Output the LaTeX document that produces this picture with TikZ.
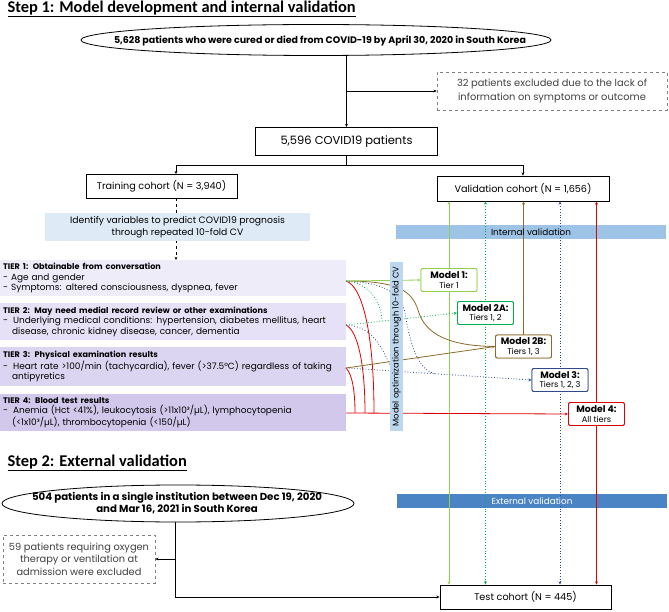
\documentclass[tikz,border=0pt]{standalone}
\usepackage{fontspec}
\setmainfont{Poppins}
\newfontfamily\titlefont{Carlito}
\usetikzlibrary{arrows.meta,shapes.geometric,calc}
\definecolor{tA}{HTML}{EFECF9}
\definecolor{tB}{HTML}{E6E1F6}
\definecolor{tC}{HTML}{DCD5F1}
\definecolor{tD}{HTML}{D1C8EC}
\definecolor{idblue}{HTML}{DEEBF7}
\definecolor{intblue}{HTML}{9DC3E6}
\definecolor{extblue}{HTML}{4A84C4}
\definecolor{cvblue}{HTML}{BDD7EE}
\definecolor{lgreen}{HTML}{92D050}
\definecolor{dgreen}{HTML}{00B050}
\definecolor{brownc}{HTML}{8C6A2A}
\definecolor{navyc}{HTML}{2F4A8C}
\definecolor{redc}{HTML}{E00000}
\definecolor{greyc}{HTML}{808080}
\newlength\fitlen
\newcommand\fitsize[4]{\settowidth\fitlen{\fontsize{10}{12}\selectfont#3#4}\pgfmathsetmacro#1{10*#2/\fitlen}}
\newcommand\hd[1]{{\fontsize{\fsHead}{10.5}\selectfont\bfseries #1}}
\newcommand\mbf[1]{{\fontsize{\fsMB}{10}\selectfont\bfseries #1}}
\begin{document}
\fitsize{\fsTitle}{348}{\titlefont\bfseries}{Step 1: Model development and internal validation}%
\fitsize{\fsOvalA}{412}{\bfseries}{5,628 patients who were cured or died from COVID-19 by April 30, 2020 in South Korea}%
\fitsize{\fsOvalB}{290}{\bfseries}{504 patients in a single institution between Dec 19, 2020}%
\fitsize{\fsBig}{132}{}{5,596 COVID19 patients}%
\fitsize{\fsBox}{137}{}{Validation cohort (N = 1,656)}%
\fitsize{\fsIdent}{215}{}{Identify variables to predict COVID19 prognosis}%
\fitsize{\fsHead}{252}{\bfseries}{TIER 2: May need medial record review or other examinations}%
\fitsize{\fsBody}{318}{}{-\hspace{5pt}Underlying medical conditions: hypertension, diabetes mellitus, heart}%
\fitsize{\fsDashA}{190}{}{32 patients excluded due to the lack of}%
\fitsize{\fsDashB}{140}{}{59 patients requiring oxygen}%
\fitsize{\fsBand}{80}{}{Internal validation}%
\fitsize{\fsMB}{46}{\bfseries}{Model 2A:}%
\fitsize{\fsMN}{41}{}{Tiers 1, 2, 3}%
\fitsize{\fsCV}{160}{}{Model optimization through 10-fold CV}%
\begin{tikzpicture}[x=1pt,y=-1pt,
  >={Stealth[length=3.2pt,width=2.8pt]},
  box/.style={draw,line width=0.8pt,fill=white,inner sep=2pt,font=\fontsize{\fsBox}{12}\selectfont},
  dbox/.style={draw=greyc,dashed,line width=0.6pt,fill=white,align=center,text=black!75,inner sep=2pt},
  oval/.style={draw,ellipse,line width=0.8pt,fill=white,inner sep=0pt},
  ovaltext/.style={align=center,inner sep=0pt},
  tier/.style={anchor=north west,fill=#1,minimum width=346pt,text width=340pt,inner xsep=3pt,inner ysep=3pt,align=left,font=\fontsize{\fsBody}{10.5}\selectfont},
  model/.style={draw=#1,line width=0.9pt,fill=white,rounded corners=2pt,align=center,minimum width=56pt,minimum height=23pt,inner sep=1pt,font=\fontsize{\fsMN}{9.5}\selectfont},
  band/.style={fill=#1,inner sep=0pt},
  ttl/.style={anchor=base west,font=\titlefont\fontsize{\fsTitle}{20}\selectfont\bfseries},
  conn/.style={line width=0.7pt},
  cl/.style={line width=0.8pt}
]
\useasboundingbox (0,0) rectangle (669,612);

% titles
\node[ttl] (t1) at (4,12.5) {\underline{Step 1: Model development and internal validation}};
\node[ttl] (t2) at (4,466) {\underline{Step 2: External validation}};

% step 1 top
\node[oval,minimum width=470pt,minimum height=31pt] (e1) at (316,40) {};
\node[ovaltext,font=\fontsize{\fsOvalA}{12}\selectfont\bfseries] (e1t) at (320,41) {5,628 patients who were cured or died from COVID-19 by April 30, 2020 in South Korea};
\node[dbox,minimum width=230pt,minimum height=38pt,font=\fontsize{\fsDashA}{14}\selectfont] (ex1) at (552,91) {32 patients excluded due to the lack of\\information on symptoms or outcome};
\node[box,minimum width=182pt,minimum height=28pt,font=\fontsize{\fsBig}{13}\selectfont] (all) at (346.5,141.5) {5,596 COVID19 patients};
\coordinate (br1) at (346.5,91);
\draw[conn,->] (e1.south -| all.north) -- (all.north);
\draw[conn,->] (br1) -- (ex1.west);

\node[box,minimum width=151pt,minimum height=24pt] (train) at (161.5,186.5) {Training cohort (N = 3,940)};
\node[box,minimum width=172pt,minimum height=25pt] (valid) at (523,188.5) {Validation cohort (N = 1,656)};
\coordinate (spl) at (176,165);
\coordinate (spr) at (523,165);
\draw[conn] (all.south) -- (all.south |- spl);
\draw[conn,->] (spl) -- (spr) -- (valid.north);
\draw[conn,->] (spl) -- (train.north -| spl);

% identify box and tiers
\coordinate (dtop) at (176,198.5);
\coordinate (dbot) at (176,260);
\draw[conn,dashed,->] (dtop) -- (dbot);
\node[band=idblue,minimum width=265pt,minimum height=28pt,align=center,font=\fontsize{\fsIdent}{11.5}\selectfont] (ident) at (177.5,227) {Identify variables to predict COVID19 prognosis\\through repeated 10-fold CV};

\node[tier=tA,minimum height=36pt] (T1) at (0,260) {\hd{TIER 1: Obtainable from conversation}\\- Age and gender\\- Symptoms: altered consciousness, dyspnea, fever};
\node[tier=tB,minimum height=37pt] (T2) at (0,303) {\hd{TIER 2: May need medial record review or other examinations}\\-\hspace{5pt}Underlying medical conditions: hypertension, diabetes mellitus, heart\\\hspace*{9pt}disease, chronic kidney disease, cancer, dementia};
\node[tier=tC,minimum height=39pt] (T3) at (0,347) {\hd{TIER 3: Physical examination results}\\-\hspace{5pt}Heart rate >100/min (tachycardia), fever (>37.5°C) regardless of taking\\\hspace*{9pt}antipyretics};
\node[tier=tD,minimum height=37pt] (T4) at (0,394) {\hd{TIER 4: Blood test results}\\-\hspace{5pt}Anemia (Hct <41\%), leukocytosis (>11x10³/µL), lymphocytopenia\\\hspace*{9pt}(<1x10³/µL), thrombocytopenia (<150/µL)};

\node[band=intblue,minimum width=270pt,minimum height=14pt] (intv) at (531,232) {};
\node[band=extblue,minimum width=270pt,minimum height=14pt] (extv) at (532,501) {};

% models (positions; redrawn on top later)
\node[model=lgreen] (M1) at (449,280) {};
\node[model=dgreen] (M2A) at (485.5,313) {};
\node[model=brownc] (M2B) at (523.5,346.5) {};
\node[model=navyc] (M3) at (560,380) {};
\node[model=redc] (M4) at (596.5,414) {};

% step 2
\node[oval,minimum width=352pt,minimum height=37pt] (e2) at (178,503.5) {};
\node[ovaltext,font=\fontsize{\fsOvalB}{12}\selectfont\bfseries] (e2t) at (177,503.5) {504 patients in a single institution between Dec 19, 2020\\and Mar 16, 2021 in South Korea};
\node[dbox,minimum width=152pt,minimum height=48pt,font=\fontsize{\fsDashB}{12.5}\selectfont] (ex2) at (79,559) {59 patients requiring oxygen\\therapy or ventilation at\\admission were excluded};
\node[box,minimum width=171pt,minimum height=24pt] (test) at (525.5,597) {Test cohort (N = 445)};
\coordinate (b2a) at (175,559);
\coordinate (b2b) at (175,597);
\draw[conn,->] (e2.south -| b2a) -- (b2b) -- (test.west);
\draw[conn,->] (b2a) -- (ex2.east);

% source points
\coordinate (S1) at (346,281);
\coordinate (S2) at (346,325);
\coordinate (S3) at (346,368);
\coordinate (S4) at (346,413);

% vertical validation lines
\draw[lgreen,cl,<->] (valid.south -| M1) -- (test.north -| M1);
\draw[dgreen,cl,dotted,<->] (valid.south -| M2A) -- (test.north -| M2A);
\draw[brownc,cl,->] (M2B.north) -- (valid.south -| M2B);
\draw[navyc,cl,dotted,<->] (valid.south -| M3) -- (test.north -| M3);
\draw[redc,cl,<->] (valid.south -| M4) -- (test.north -| M4);

% curves from tiers
\coordinate (J2) at (382,321);
\coordinate (J3a) at (435,373.7);
\coordinate (J3b) at (392,371);
\coordinate (R1) at (374,413);
\coordinate (R2) at (365,413);
\coordinate (R3) at (355,413);
\draw[redc,cl] (S1) .. controls (364,287) and (374,340) .. (R1);
\draw[redc,cl] (S2) .. controls (358,331) and (365,365) .. (R2);
\draw[redc,cl] (S3) .. controls (352,374) and (355,390) .. (R3);
\draw[redc,cl,->] (S4) -- (M4.west);
\draw[navyc,cl,dotted] (S1) .. controls (385,283) and (400,293) .. (405,312) .. controls (410,345) and (418,370) .. (J3a);
\draw[navyc,cl,dotted] (S2) .. controls (366,326) and (380,338) .. (J3b);
\draw[navyc,cl,dotted,->] (S3) -- (M3.west);
\draw[brownc,cl] (S1) .. controls (400,281) and (412,292) .. (418,310) .. controls (425,335) and (450,346) .. (M2B.west);
\draw[brownc,cl,->] (S3) -- (M2B.west);
\draw[dgreen,cl,dotted] (S1) .. controls (368,283) and (381,300) .. (J2);
\draw[dgreen,cl,dotted,->] (S2) -- (M2A.west);
\draw[lgreen,cl,->] (S1) -- (M1.west);

% band texts
\node[font=\fontsize{\fsBand}{10}\selectfont] (intvt) at (intv.center) {Internal validation};
\node[font=\fontsize{\fsBand}{10}\selectfont,text=white] (extvt) at (extv.center) {External validation};

% CV bar on top
\node[band=cvblue,minimum width=13pt,minimum height=169pt] (cv) at (396.5,346.5) {};
\node[rotate=90,font=\fontsize{\fsCV}{10}\selectfont] (cvt) at (cv.center) {Model optimization through 10-fold CV};

% model boxes on top
\node[model=lgreen] (M1b) at (M1) {\mbf{Model 1:}\\Tier 1};
\node[model=dgreen] (M2Ab) at (M2A) {\mbf{Model 2A:}\\Tiers 1, 2};
\node[model=brownc] (M2Bb) at (M2B) {\mbf{Model 2B:}\\Tiers 1, 3};
\node[model=navyc] (M3b) at (M3) {\mbf{Model 3:}\\Tiers 1, 2, 3};
\node[model=redc] (M4b) at (M4) {\mbf{Model 4:}\\All tiers};
\end{tikzpicture}
\end{document}
